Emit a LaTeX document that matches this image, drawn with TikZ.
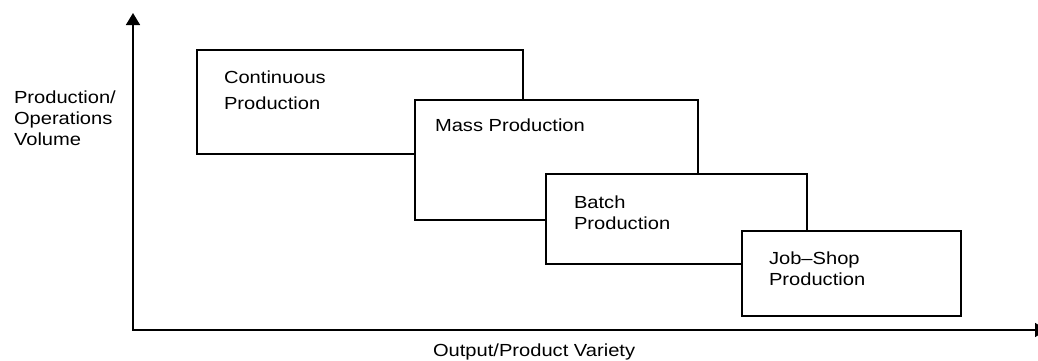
\documentclass[tikz,border=0pt]{standalone}
\usepackage{fontspec}
\newfontfamily\chartfont[FakeStretch=1.15]{Liberation Sans}
\usetikzlibrary{arrows.meta,positioning}

\begin{document}
\begin{tikzpicture}[x=1pt, y=-1pt,
  every node/.style={font=\chartfont\fontsize{17.5pt}{21pt}\selectfont,
                     inner sep=0pt, outer sep=0pt},
  modebox/.style={draw=black, fill=white, line width=1.6pt, anchor=north west},
  modelab/.style={anchor=north west, align=left},
  axistip/.tip={Triangle[width=14pt, length=12pt]}]

%% ── Page frame (pixel grid, y downwards) ─────────────────────────────────────
\useasboundingbox (0,0) rectangle (1038,360);
\fill[white] (0,0) rectangle (1038,360);

%% ── Axes ─────────────────────────────────────────────────────────────────────
\coordinate (origin) at (133,330);
\coordinate (ytop)   at (133,13);
\coordinate (xend)   at (1047,330);
\draw[line width=1.6pt, axistip-axistip] (ytop) -- (origin) -- (xend);

\node[modelab] (ylab) at (14,91) {Production/\\Operations\\Volume};
\node[modelab] (xlab) at (433,344) {Output/Product Variety};

%% ── Production modes (drawn back to front) ───────────────────────────────────
\node[modebox, minimum width=326pt, minimum height=104pt] (cont)  at (197,50)  {};
\node[modelab] (contlab) at ([shift={(27,21)}]cont.north west)
  {Continuous\\[5pt]Production};

\node[modebox, minimum width=283pt, minimum height=120pt] (mass)  at (415,100) {};
\node[modelab] (masslab) at ([shift={(20,19)}]mass.north west) {Mass Production};

\node[modebox, minimum width=261pt, minimum height=90pt]  (batch) at (546,174) {};
\node[modelab] (batchlab) at ([shift={(28,22)}]batch.north west)
  {Batch\\Production};

\node[modebox, minimum width=219pt, minimum height=85pt]  (job)   at (742,231) {};
\node[modelab] (joblab) at ([shift={(27,21)}]job.north west)
  {Job–Shop\\Production};

\end{tikzpicture}
\end{document}
